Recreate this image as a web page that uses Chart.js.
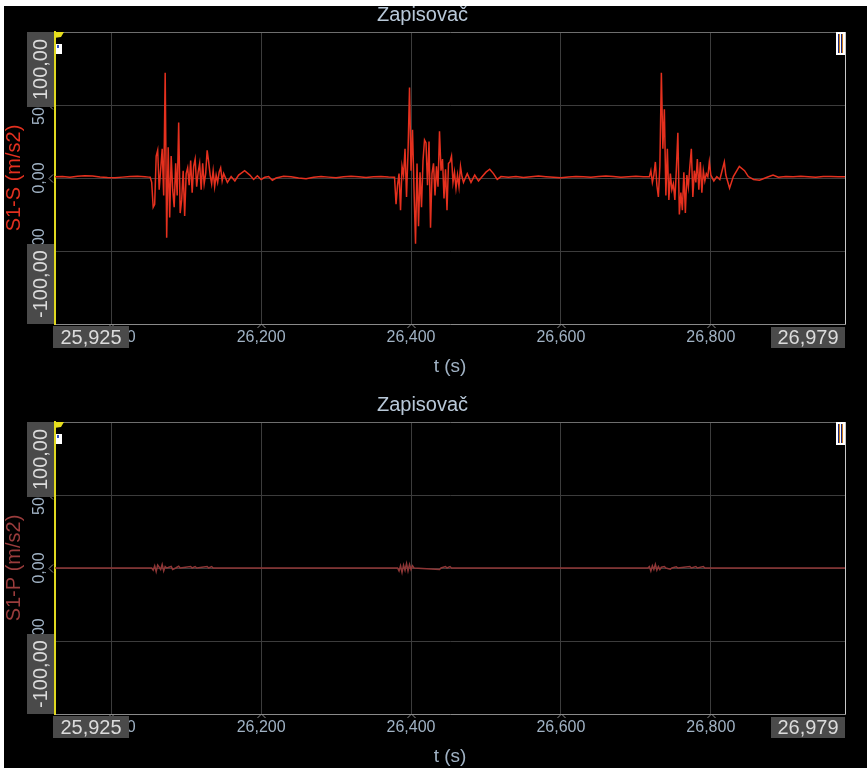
<!DOCTYPE html>
<html>
<head>
<meta charset="utf-8">
<script src="https://cdn.jsdelivr.net/npm/chart.js@4/dist/chart.umd.min.js"></script>
<style>
  html, body { margin:0; padding:0; background:#fff; width:867px; height:770px; overflow:hidden; }
  #bg { position:absolute; left:4px; top:6px; width:863px; height:762px; background:#000; }
  .panel { position:absolute; left:0; width:867px; height:390px; }
  #p1 { top:0; } #p2 { top:390px; }
</style>
</head>
<body>
<div id="bg"></div>
<div class="panel" id="p1"><canvas id="c1" width="867" height="390"></canvas></div>
<div class="panel" id="p2"><canvas id="c2" width="867" height="390"></canvas></div>
<script>
// ---------- DATA ----------
const titleText = 'Zapisovač';
const xTitle = 't (s)';
const yTitleS = 'S1-S (m/s2)';
const yTitleP = 'S1-P (m/s2)';
const xMin = 25.925, xMax = 26.979;
const yMin = -100, yMax = 100;
const xTickValues = [25.925, 26.0, 26.2, 26.4, 26.6, 26.8, 26.979];
const yTickValues = [-100, -50, 0, 50, 100];
const sampleStep = 0.002;

// S1-S: quiet stretches (explicit times) and dense bursts (uniform samples)
const sBaseATimes  = [25.925, 25.935, 25.945, 25.955, 25.965, 25.975, 25.985, 25.995, 26.005, 26.015, 26.025, 26.035, 26.045, 26.05];
const sBaseAValues = [0.8, 1.0, 0.6, 1.2, 1.6, 1.3, 0.7, 0.3, 0.2, 0.6, 1.0, 1.2, 0.9, 0.6];

const sBurst1Start = 26.052;
const sBurst1Values = [0.5, -3, -20, -18, 15, 19, -8, 6, 20, -12, 72, -41, 21, -27, 15, -8, -20, 10, -12, 38,
  -24, -15, 5, -26, 3, 7, -5, 12, -10, 8, 13, -6, 4, 10, -8, 10, -4, 3, 19, 11, 2, -4, 5, -6, 2, -3, 4, 7, -2, 3];

const sTail1Times  = [26.155, 26.16, 26.165, 26.17, 26.178, 26.185, 26.19, 26.195, 26.2, 26.205, 26.21, 26.215, 26.22,
  26.23, 26.24, 26.25, 26.26, 26.27, 26.28, 26.29, 26.30, 26.31, 26.32, 26.33, 26.34, 26.35, 26.36, 26.37];
const sTail1Values = [-3, 1, -2, 2, 5, 2, -1, 1.5, -1, 0.5, 1, -1.5, 0,
  1.2, 0.8, 0, -0.5, 0.5, 1.0, 0.6, 0.2, 0.8, 1.2, 0.8, 0.4, 0.9, 1.1, 0.7];

const sBurst2Start = 26.378;
const sBurst2Values = [0.5, -18, -5, 3, -22, 8, 2, 20, -13, 18, 62, 5, 33, -8, -45, 10, -33, 4, -20, 12,
  26, 24, -5, 25, -34, 3, 10, -12, 8, -6, 32, 5, 13, -14, 6, -22, 10, 11, 15, -3, 4, -7, 2, -6, 8, 1, -3];

const sTail2Times  = [26.475, 26.48, 26.485, 26.49, 26.495, 26.5, 26.505, 26.51, 26.515, 26.52,
  26.53, 26.54, 26.55, 26.56, 26.57, 26.58, 26.59, 26.6, 26.61, 26.62, 26.63, 26.64, 26.65, 26.66, 26.67, 26.68, 26.69, 26.7, 26.71];
const sTail2Values = [3, -3, 2, -2, 1, 4, 6, 3, -1, 1,
  0.5, 1.0, 0.4, 0.8, 1.3, 0.9, 0.5, 0.2, 0.7, 1.1, 0.9, 0.6, 1.0, 1.4, 1.0, 0.5, 0.8, 1.2, 0.9];

const sBurst3Start = 26.718;
const sBurst3Values = [0.8, 5, -3, 2, 11, -5, -13, 8, 72, 20, 47, -12, 20, -15, 3, -8, -4, -15, 6, 31,
  -25, -10, -22, 4, -24, 2, -6, 8, 20, -13, 5, -3, 13, -8, 11, -10, 5, -2, 3, 1, 11, 2];

const sTail3Times  = [26.804, 26.808, 26.812, 26.818, 26.82, 26.825, 26.83, 26.838, 26.845, 26.85, 26.857, 26.865,
  26.875, 26.883, 26.89, 26.9, 26.91, 26.92, 26.93, 26.94, 26.95, 26.96, 26.97, 26.979];
const sTail3Values = [-2, 1, -1, 11, 2, -7, 1, 8, 5, 1, -1, -1.5,
  0.5, 2, 0.5, 1.0, 0.8, 1.2, 0.9, 0.6, 1.0, 1.1, 0.8, 0.9];

// S1-P: nearly flat, tiny wiggles at the same events
const pEdgeTimes  = [25.925, 26.979];
const pEdgeValues = [0, 0];
const pBurst1Times  = [26.054, 26.056, 26.058, 26.060, 26.062, 26.064, 26.066, 26.068, 26.070, 26.072, 26.074, 26.076,
  26.080, 26.082, 26.086, 26.090, 26.092, 26.106, 26.108, 26.112, 26.114, 26.128, 26.130, 26.134, 26.136];
const pBurst1Values = [0, -1.5, 1.5, -2.5, 2, 0.5, -1, 2.5, -2, 1, 0, 0.3, 1, -1, 0, 1.2, 0, 1, 0, 1, 0, 1, 0, 1, 0];
const pBurst2Times  = [26.382, 26.384, 26.386, 26.388, 26.390, 26.392, 26.394, 26.396, 26.398, 26.400, 26.402, 26.404,
  26.438, 26.440, 26.446, 26.448, 26.452, 26.454];
const pBurst2Values = [0, -2, 1.5, -3, 2, -1.5, 3, -2, 2.5, -1, 1.5, 0, -1, 0, 1, 0, 1, 0];
const pBurst3Times  = [26.716, 26.718, 26.720, 26.722, 26.724, 26.726, 26.728, 26.730, 26.732, 26.734, 26.738, 26.740,
  26.746, 26.748, 26.754, 26.756, 26.772, 26.774, 26.780, 26.782, 26.790, 26.792];
const pBurst3Values = [0, 1, -2, 1.5, -1, 2.5, -1.5, 1, -1, 0.5, 1, 0, -0.8, 0, 0.8, 0, 1, 0, 1, 0, 1, 0];

// ---------- BUILD ----------
function pairPoints(times, values) { return times.map((t, i) => ({x: t, y: values[i]})); }
function burstPoints(start, values) { return values.map((v, i) => ({x: +(start + i * sampleStep).toFixed(4), y: v})); }
const byX = (a, b) => a.x - b.x;

const sPoints = [].concat(
  pairPoints(sBaseATimes, sBaseAValues),
  burstPoints(sBurst1Start, sBurst1Values),
  pairPoints(sTail1Times, sTail1Values),
  burstPoints(sBurst2Start, sBurst2Values),
  pairPoints(sTail2Times, sTail2Values),
  burstPoints(sBurst3Start, sBurst3Values),
  pairPoints(sTail3Times, sTail3Values)
).sort(byX);

const pPoints = [].concat(
  pairPoints(pEdgeTimes, pEdgeValues),
  pairPoints(pBurst1Times, pBurst1Values),
  pairPoints(pBurst2Times, pBurst2Values),
  pairPoints(pBurst3Times, pBurst3Values)
).sort(byX);

const FONT = '"Liberation Sans", Arial, sans-serif';
const fmtX = v => v.toFixed(3).replace('.', ',');
const fmtY = v => v.toFixed(2).replace('.', ',');
const labelColor = '#a0b2c4';

const overlay = {
  id: 'overlay',
  afterDraw(chart) {
    const {ctx, chartArea: a, scales: {x, y}} = chart;
    ctx.save();
    ctx.strokeStyle = '#8c8c8c'; ctx.lineWidth = 1;
    x.ticks.forEach(t => {
      if (t.value === xMin || t.value === xMax) return;
      const px = Math.round(x.getPixelForValue(t.value)) + 0.5;
      ctx.beginPath(); ctx.moveTo(px - 4, a.bottom + 4); ctx.lineTo(px, a.bottom); ctx.lineTo(px + 4, a.bottom + 4); ctx.stroke();
    });
    y.ticks.forEach(t => {
      if (t.value === yMin || t.value === yMax) return;
      const py = Math.round(y.getPixelForValue(t.value)) + 0.5;
      ctx.beginPath(); ctx.moveTo(a.left - 2, py - 4); ctx.lineTo(a.left - 6, py); ctx.lineTo(a.left - 2, py + 4); ctx.stroke();
    });
    ctx.font = '16px ' + FONT; ctx.fillStyle = labelColor; ctx.textAlign = 'center'; ctx.textBaseline = 'middle';
    y.ticks.forEach(t => {
      if (t.value === yMin || t.value === yMax) return;
      const py = y.getPixelForValue(t.value);
      ctx.save(); ctx.translate(40, py); ctx.rotate(-Math.PI / 2); ctx.fillText(fmtY(t.value), 0, 0); ctx.restore();
    });
    ctx.font = '20px ' + FONT;
    const boxFill = '#4a4a4a', boxText = '#dcdcdc';
    ctx.fillStyle = boxFill; ctx.fillRect(27, a.top, 27, 75);
    ctx.fillStyle = boxText; ctx.save(); ctx.translate(40.5, a.top + 37.5); ctx.rotate(-Math.PI / 2); ctx.fillText(fmtY(yMax), 0, 1); ctx.restore();
    ctx.fillStyle = boxFill; ctx.fillRect(27, a.bottom - 80, 27, 80);
    ctx.fillStyle = boxText; ctx.save(); ctx.translate(40.5, a.bottom - 40); ctx.rotate(-Math.PI / 2); ctx.fillText(fmtY(yMin), 0, 1); ctx.restore();
    ctx.fillStyle = boxFill; ctx.fillRect(a.left - 2, a.bottom + 2, 76, 22);
    ctx.fillStyle = boxText; ctx.fillText(fmtX(xMin), a.left - 2 + 38, a.bottom + 14);
    ctx.fillStyle = boxFill; ctx.fillRect(a.right - 74, a.bottom + 3, 74, 21);
    ctx.fillStyle = boxText; ctx.fillText(fmtX(xMax), a.right - 37, a.bottom + 14.5);
    ctx.fillStyle = '#e6de1e';
    ctx.beginPath(); ctx.moveTo(a.left - 1, a.top); ctx.lineTo(a.left + 9, a.top); ctx.lineTo(a.left + 6, a.top + 5); ctx.lineTo(a.left - 1, a.top + 6); ctx.closePath(); ctx.fill();
    ctx.fillStyle = '#ffffff'; ctx.fillRect(a.left + 1, a.top + 12, 6, 10);
    ctx.fillStyle = '#3050c0'; ctx.fillRect(a.left + 2, a.top + 13, 2, 3);
    ctx.fillStyle = '#ffffff'; ctx.fillRect(a.right - 9, a.top, 9, 23);
    ctx.fillStyle = '#1a2a80'; ctx.fillRect(a.right - 7, a.top + 2, 1, 19); ctx.fillRect(a.right - 4, a.top + 2, 1, 19);
    ctx.fillStyle = '#d08020'; ctx.fillRect(a.right - 6, a.top + 2, 1, 19); ctx.fillRect(a.right - 3, a.top + 2, 1, 19);
    ctx.restore();
  }
};

function makeChart(canvasId, points, lineColor, lineWidth, yTitle, yTitleColor) {
  return new Chart(document.getElementById(canvasId), {
    type: 'line',
    data: { datasets: [{ data: points, borderColor: lineColor, borderWidth: lineWidth, pointRadius: 0, fill: false, tension: 0 }] },
    options: {
      responsive: false, animation: false, devicePixelRatio: 1,
      layout: { padding: { left: 0, right: 22, top: 0, bottom: 0 } },
      plugins: {
        legend: { display: false }, tooltip: { enabled: false },
        title: { display: true, text: titleText, color: '#b8c8d8', font: { family: FONT, size: 20, weight: 'normal' }, padding: { top: 3, bottom: 5 } }
      },
      scales: {
        x: {
          type: 'linear', min: xMin, max: xMax,
          afterBuildTicks: s => { s.ticks = xTickValues.map(v => ({ value: v })); },
          afterFit: s => { s.height = 66; },
          ticks: { autoSkip: false, maxRotation: 0, minRotation: 0, padding: 4, color: labelColor, font: { family: FONT, size: 16 },
                   callback: v => (v === xMin || v === xMax) ? '' : fmtX(v) },
          grid: { drawTicks: false, lineWidth: 1,
                  color: c => c.tick && c.tick.value === xMax ? '#c8c8c8' : (c.tick && c.tick.value === xMin ? 'rgba(0,0,0,0)' : '#3c3c3c') },
          border: { display: true, color: '#8a8a8a', width: 1 },
          title: { display: true, text: xTitle, color: labelColor, font: { family: FONT, size: 19 }, padding: { top: 0, bottom: 12 } }
        },
        y: {
          type: 'linear', min: yMin, max: yMax,
          afterBuildTicks: s => { s.ticks = yTickValues.map(v => ({ value: v })); },
          afterFit: s => { s.width = 55; },
          ticks: { display: false },
          grid: { drawTicks: false, lineWidth: 1,
                  color: c => c.tick && c.tick.value === yMax ? '#6e6e6e' : '#3c3c3c' },
          border: { display: true, color: '#e0d820', width: 2 },
          title: { display: true, text: yTitle, color: yTitleColor, font: { family: FONT, size: 20 }, padding: { top: 2, bottom: 0 } }
        }
      }
    },
    plugins: [overlay]
  });
}

makeChart('c1', sPoints, '#e5301e', 1.5, yTitleS, '#e3301f');
makeChart('c2', pPoints, '#8e3636', 1.5, yTitleP, '#9a3c3c');
</script>
</body>
</html>
